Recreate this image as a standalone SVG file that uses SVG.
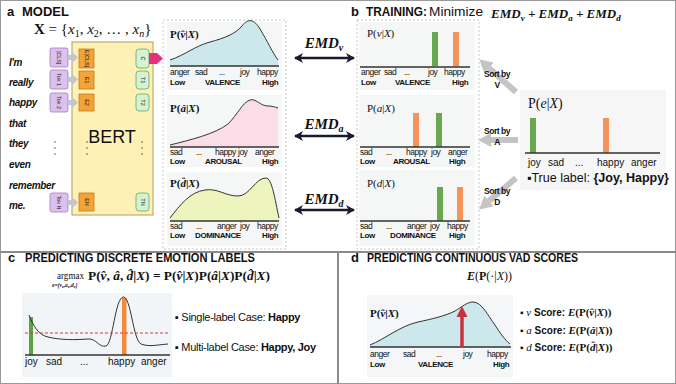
<svg xmlns="http://www.w3.org/2000/svg" width="676" height="384" viewBox="0 0 676 384">
<style>
.s{font-family:"Liberation Sans",Arial,sans-serif;fill:#111}
.m{font-family:"Liberation Serif","DejaVu Serif",serif;fill:#111}
.b{font-weight:bold}
.i{font-style:italic}
.t{font-size:13px;font-weight:bold}
.ax{font-size:8.5px;letter-spacing:-0.5px}
.axb{font-size:8px;font-weight:bold;letter-spacing:-0.4px}
.w{font-size:10px;font-weight:bold;font-style:italic;letter-spacing:-0.3px}
.tok{font-size:5.5px}
.bg{fill:#f5f7f7}
.dash{fill:none;stroke:#c8c8c8;stroke-dasharray:2 2}
.base{stroke:#333;stroke-width:1.6}
.curve{stroke:#333;stroke-width:1}
.srt{font-size:8.5px;font-weight:bold;letter-spacing:-0.5px}
.ga{stroke:#c4c4c4;stroke-width:6;fill:none}
.emd{stroke:#1a1a2e;stroke-width:2.5;fill:none}
.pur{fill:#dcc0ee;stroke:#a57cc4;stroke-width:0.8}
.org{fill:#f0a43a;stroke:#c87a18;stroke-width:0.8}
.grn{fill:#d6f2d4;stroke:#62a862;stroke-width:0.8}
.garr{fill:#c4c4cc}
</style>
<defs>
<marker id="ah" markerUnits="userSpaceOnUse" markerWidth="9" markerHeight="10" refX="8" refY="5" orient="auto-start-reverse"><path d="M0,0 L9,5 L0,10 L2.5,5 z" fill="#1a1a2e"/></marker>
<marker id="gh" markerUnits="userSpaceOnUse" markerWidth="13" markerHeight="14" refX="0" refY="7" orient="auto"><path d="M0,0 L13,7 L0,14 z" fill="#c4c4c4"/></marker>
</defs>

<!-- frame -->
<rect x="0.5" y="0.5" width="675" height="383" fill="#fff" stroke="#999"/>
<line x1="0" y1="252" x2="676" y2="252" stroke="#8a8a8a" stroke-width="2"/>
<line x1="338" y1="252" x2="338" y2="384" stroke="#8a8a8a" stroke-width="2"/>

<!-- titles -->
<text class="s t" x="7" y="16">a<tspan x="22">MODEL</tspan></text>
<text class="m" x="34" y="34" font-size="15"><tspan class="b">X</tspan> = {<tspan class="i">x</tspan><tspan font-size="10" dy="3">1</tspan><tspan dy="-3">, </tspan><tspan class="i">x</tspan><tspan font-size="10" dy="3">2</tspan><tspan dy="-3">, … , </tspan><tspan class="i">x</tspan><tspan font-size="10" dy="3" class="i">n</tspan><tspan dy="-3">}</tspan></text>
<text class="s t" x="351" y="16">b</text>
<text class="s t" x="366" y="16" textLength="61" lengthAdjust="spacingAndGlyphs">TRAINING:</text>
<text class="s" x="429" y="16" font-size="12" textLength="54" lengthAdjust="spacingAndGlyphs">Minimize</text>
<text class="m b i" x="491" y="18" font-size="13">EMD<tspan font-size="9" dy="3">v</tspan><tspan dy="-3"> + EMD</tspan><tspan font-size="9" dy="3">a</tspan><tspan dy="-3"> + EMD</tspan><tspan font-size="9" dy="3">d</tspan></text>

<!-- words -->
<g id="words">
<text class="s w" x="9" y="66">I'm</text>
<text class="s w" x="9" y="86">really</text>
<text class="s w" x="9" y="106">happy</text>
<text class="s w" x="9" y="127">that</text>
<text class="s w" x="9" y="147">they</text>
<text class="s w" x="9" y="168">even</text>
<text class="s w" x="9" y="189">remember</text>
<text class="s w" x="9" y="209">me.</text>
<g fill="#555"><circle cx="55" cy="142" r="0.8"/><circle cx="55" cy="148" r="0.8"/><circle cx="55" cy="154" r="0.8"/></g>
</g>

<!-- BERT -->
<g id="bert">
<rect x="72" y="42" width="81" height="173" fill="#fdf1b6" stroke="#b09c60" stroke-width="1"/>
<text class="s" x="112" y="143" font-size="18" text-anchor="middle">BERT</text>
<g fill="#555"><circle cx="87" cy="142" r="0.8"/><circle cx="87" cy="148" r="0.8"/><circle cx="87" cy="154" r="0.8"/><circle cx="142" cy="142" r="0.8"/><circle cx="142" cy="148" r="0.8"/><circle cx="142" cy="154" r="0.8"/></g>
</g>

<g id="tokens">
<rect class="pur" x="50" y="48" width="18" height="19" rx="2"/>
<rect class="pur" x="50" y="70" width="18" height="19" rx="2"/>
<rect class="pur" x="50" y="93" width="18" height="19" rx="2"/>
<rect class="pur" x="50" y="193" width="18" height="19" rx="2"/>
<text class="s tok" transform="translate(59,57.5) rotate(90)" text-anchor="middle" dy="2">[CLS]</text>
<text class="s tok" transform="translate(59,79.5) rotate(90)" text-anchor="middle" dy="2">Tok 1</text>
<text class="s tok" transform="translate(59,102.5) rotate(90)" text-anchor="middle" dy="2">Tok 2</text>
<text class="s tok" transform="translate(59,202.5) rotate(90)" text-anchor="middle" dy="2">Tok N</text>
<polygon class="garr" points="68,55 72,55 72,52 78,57.5 72,63 72,60 68,60"/>
<polygon class="garr" points="68,77 72,77 72,74 78,79.5 72,85 72,82 68,82"/>
<polygon class="garr" points="68,100 72,100 72,97 78,102.5 72,108 72,105 68,105"/>
<polygon class="garr" points="68,200 72,200 72,197 78,202.5 72,208 72,205 68,205"/>
</g>

<g id="embeddings">
<rect class="org" x="79" y="49" width="15" height="19"/>
<rect class="org" x="79" y="71" width="15" height="18"/>
<rect class="org" x="79" y="94" width="15" height="17"/>
<rect class="org" x="79" y="193" width="15" height="18"/>
<text class="s tok" transform="translate(86.5,58.5) rotate(90)" text-anchor="middle" dy="2">E[CLS]</text>
<text class="s tok" transform="translate(86.5,80) rotate(90)" text-anchor="middle" dy="2">E1</text>
<text class="s tok" transform="translate(86.5,102.5) rotate(90)" text-anchor="middle" dy="2">E2</text>
<text class="s tok" transform="translate(86.5,202) rotate(90)" text-anchor="middle" dy="2">EN</text>
</g>

<g id="outputs">
<rect class="grn" x="136" y="49" width="13" height="19" rx="3"/>
<rect class="grn" x="136" y="71" width="13" height="18" rx="3"/>
<rect class="grn" x="136" y="94" width="13" height="17" rx="3"/>
<rect class="grn" x="136" y="193" width="13" height="18" rx="3"/>
<text class="s tok" transform="translate(142.5,58.5) rotate(90)" text-anchor="middle" dy="2">C</text>
<text class="s tok" transform="translate(142.5,80) rotate(90)" text-anchor="middle" dy="2">T1</text>
<text class="s tok" transform="translate(142.5,102.5) rotate(90)" text-anchor="middle" dy="2">T2</text>
<text class="s tok" transform="translate(142.5,202) rotate(90)" text-anchor="middle" dy="2">TN</text>
<polygon points="149,53 157,53 163,58.5 157,64 149,64" fill="#e6307e"/>
</g>

<!-- predicted distributions -->
<g id="pred">
<rect class="dash" x="163" y="20" width="123" height="229"/>
<rect class="bg" x="167" y="22" width="115" height="68"/>
<rect class="bg" x="167" y="95" width="115" height="72"/>
<rect class="bg" x="167" y="172" width="115" height="74"/>
<path d="M170,60 C185,55 195,46 210,42 C225,38 235,34 242,26 C248,18 254,19 260,29 C268,42 272,52 278,60 L278,66 L170,66 Z" fill="#cde8ec"/>
<path class="curve" fill="none" d="M170,60 C185,55 195,46 210,42 C225,38 235,34 242,26 C248,18 254,19 260,29 C268,42 272,52 278,60"/>
<line class="base" x1="170" y1="66" x2="279" y2="66"/>
<text class="m b" x="170" y="38" font-size="11">P(<tspan class="i">v̂</tspan>|<tspan class="i">X</tspan>)</text>
<text class="s ax" y="75"><tspan x="170">anger</tspan><tspan x="195">sad</tspan><tspan x="219">...</tspan><tspan x="240">joy</tspan><tspan x="257">happy</tspan></text>
<text class="s axb" y="85"><tspan x="170">Low</tspan><tspan x="205">VALENCE</tspan><tspan x="262">High</tspan></text>

<path d="M170,145 C190,140 215,134 228,124 C238,114 242,103 250,100 C256,98 260,106 268,106 C272,106 275,107 278,108 L278,147 L170,147 Z" fill="#fbdde7"/>
<path class="curve" fill="none" d="M170,145 C190,140 215,134 228,124 C238,114 242,103 250,100 C256,98 260,106 268,106 C272,106 275,107 278,108"/>
<line class="base" x1="170" y1="147" x2="279" y2="147"/>
<text class="m b" x="170" y="112" font-size="11">P(<tspan class="i">â</tspan>|<tspan class="i">X</tspan>)</text>
<text class="s ax" y="155"><tspan x="170">sad</tspan><tspan x="196">...</tspan><tspan x="215">happy</tspan><tspan x="238">joy</tspan><tspan x="255">anger</tspan></text>
<text class="s axb" y="164"><tspan x="170">Low</tspan><tspan x="205">AROUSAL</tspan><tspan x="262">High</tspan></text>

<path d="M170,218 C180,205 190,192 205,190 C218,188 225,196 238,196 C250,196 255,178 266,178 C272,178 275,200 279,218 L279,221 L170,221 Z" fill="#eef4bd"/>
<path class="curve" fill="none" d="M170,218 C180,205 190,192 205,190 C218,188 225,196 238,196 C250,196 255,178 266,178 C272,178 275,200 279,218"/>
<line class="base" x1="170" y1="221" x2="279" y2="221"/>
<text class="m b" x="170" y="187" font-size="11">P(<tspan class="i">d̂</tspan>|<tspan class="i">X</tspan>)</text>
<text class="s ax" y="229"><tspan x="170">sad</tspan><tspan x="196">...</tspan><tspan x="217">anger</tspan><tspan x="240">joy</tspan><tspan x="257">happy</tspan></text>
<text class="s axb" y="238"><tspan x="170">Low</tspan><tspan x="195">DOMINANCE</tspan><tspan x="262">High</tspan></text>
</g>

<!-- connectors -->
<g id="connectors">
<line class="emd" x1="295" y1="58" x2="354" y2="58" marker-start="url(#ah)" marker-end="url(#ah)"/>
<line class="emd" x1="295" y1="136" x2="354" y2="136" marker-start="url(#ah)" marker-end="url(#ah)"/>
<line class="emd" x1="295" y1="210" x2="354" y2="210" marker-start="url(#ah)" marker-end="url(#ah)"/>
<line class="ga" x1="516" y1="92" x2="489" y2="68" marker-end="url(#gh)"/>
<line class="ga" x1="518" y1="140" x2="491" y2="140" marker-end="url(#gh)"/>
<line class="ga" x1="516" y1="178" x2="489" y2="201" marker-end="url(#gh)"/>
</g>
<g id="emd-labels">
<text class="m b i" x="324" y="48" font-size="15" text-anchor="middle">EMD<tspan font-size="10" dy="3">v</tspan></text>
<text class="m b i" x="324" y="129" font-size="15" text-anchor="middle">EMD<tspan font-size="10" dy="3">a</tspan></text>
<text class="m b i" x="324" y="204" font-size="15" text-anchor="middle">EMD<tspan font-size="10" dy="3">d</tspan></text>
</g>
<g id="sort-labels">
<text class="s srt" x="497" y="77" text-anchor="middle">Sort by</text>
<text class="s srt" x="497" y="88" text-anchor="middle">V</text>
<text class="s srt" x="497" y="134" text-anchor="middle">Sort by</text>
<text class="s srt" x="497" y="145" text-anchor="middle">A</text>
<text class="s srt" x="497" y="194" text-anchor="middle">Sort by</text>
<text class="s srt" x="497" y="205" text-anchor="middle">D</text>
</g>

<!-- training targets -->
<g id="targets">
<rect class="dash" x="357" y="20" width="122" height="229"/>
<rect class="bg" x="359" y="22" width="116" height="68"/>
<rect class="bg" x="359" y="95" width="116" height="72"/>
<rect class="bg" x="359" y="170" width="116" height="76"/>
<text class="m" x="367" y="37" font-size="11">P(<tspan class="i">v</tspan>|<tspan class="i">X</tspan>)</text>
<rect x="432" y="32" width="6" height="34" fill="#6aa84f"/>
<rect x="453" y="32" width="6" height="34" fill="#f4935a"/>
<line class="base" x1="360" y1="67" x2="470" y2="67"/>
<text class="s ax" y="75"><tspan x="361">anger</tspan><tspan x="384">sad</tspan><tspan x="404">...</tspan><tspan x="428">joy</tspan><tspan x="444">happy</tspan></text>
<text class="s axb" y="85"><tspan x="361">Low</tspan><tspan x="395">VALENCE</tspan><tspan x="452">High</tspan></text>

<text class="m" x="367" y="112" font-size="11">P(<tspan class="i">a</tspan>|<tspan class="i">X</tspan>)</text>
<rect x="413" y="113" width="6" height="34" fill="#f4935a"/>
<rect x="436" y="113" width="6" height="34" fill="#6aa84f"/>
<line class="base" x1="360" y1="147" x2="470" y2="147"/>
<text class="s ax" y="155"><tspan x="360">sad</tspan><tspan x="386">...</tspan><tspan x="406">happy</tspan><tspan x="431">joy</tspan><tspan x="448">anger</tspan></text>
<text class="s axb" y="164"><tspan x="360">Low</tspan><tspan x="393">AROUSAL</tspan><tspan x="449">High</tspan></text>

<text class="m" x="367" y="187" font-size="11">P(<tspan class="i">d</tspan>|<tspan class="i">X</tspan>)</text>
<rect x="437" y="187" width="6" height="34" fill="#6aa84f"/>
<rect x="457" y="187" width="6" height="34" fill="#f4935a"/>
<line class="base" x1="360" y1="221" x2="470" y2="221"/>
<text class="s ax" y="229"><tspan x="360">sad</tspan><tspan x="386">...</tspan><tspan x="407">anger</tspan><tspan x="430">joy</tspan><tspan x="447">happy</tspan></text>
<text class="s axb" y="238"><tspan x="360">Low</tspan><tspan x="390">DOMINANCE</tspan><tspan x="449">High</tspan></text>
</g>

<!-- true label -->
<g id="truth">
<rect x="520" y="90" width="146" height="100" fill="#f6f6f6"/>
<text class="m" x="528" y="108" font-size="14">P(<tspan class="i">e</tspan>|<tspan class="i">X</tspan>)</text>
<rect x="530" y="118" width="6" height="35" fill="#6aa84f"/>
<rect x="603" y="118" width="6" height="35" fill="#f4935a"/>
<line class="base" x1="525" y1="153" x2="660" y2="153"/>
<text class="s" font-size="10" y="166"><tspan x="528">joy</tspan><tspan x="548">sad</tspan><tspan x="575">...</tspan><tspan x="597">happy</tspan><tspan x="631">anger</tspan></text>
<text class="s" x="527" y="182" font-size="12.5">▪True label: <tspan class="b">{Joy, Happy}</tspan></text>
</g>

<!-- panel c -->
<g id="panel-c">
<text class="s t" x="8" y="262">c</text>
<text class="s t" x="25" y="262" textLength="230" lengthAdjust="spacingAndGlyphs">PREDICTING DISCRETE EMOTION LABELS</text>
<text class="m" x="57" y="279" font-size="10" textLength="27" lengthAdjust="spacingAndGlyphs">argmax</text>
<text class="m b i" x="52" y="287" font-size="5.5">e={v<tspan font-size="4" dy="1">e</tspan><tspan dy="-1">,a</tspan><tspan font-size="4" dy="1">e</tspan><tspan dy="-1">,d</tspan><tspan font-size="4" dy="1">e</tspan><tspan dy="-1">}</tspan></text>
<text class="m b" x="88" y="280" font-size="12" textLength="182" lengthAdjust="spacingAndGlyphs">P(<tspan class="i">v̂</tspan>, <tspan class="i">â</tspan>, <tspan class="i">d̂</tspan>|<tspan class="i">X</tspan>) = P(<tspan class="i">v̂</tspan>|<tspan class="i">X</tspan>)P(<tspan class="i">â</tspan>|<tspan class="i">X</tspan>)P(<tspan class="i">d̂</tspan>|<tspan class="i">X</tspan>)</text>
<rect x="22" y="293" width="150" height="84" fill="#f1f5f7"/>
<rect x="29" y="317" width="4" height="38" fill="#5da046"/>
<rect x="122" y="298" width="4.5" height="57" fill="#f08a3c"/>
<path class="curve" fill="none" stroke-width="1.6" d="M29,315 C33,325 38,335 48,337 C60,340 75,340 88,339 C96,338 99,348 106,346 C113,344 115,297 123.5,297 C131,297 133,340 141,344 C149,347 156,345 168,344"/>
<line x1="25" y1="333" x2="170" y2="333" stroke="#d63a3a" stroke-width="1" stroke-dasharray="3 2"/>
<line class="base" x1="25" y1="355" x2="170" y2="355"/>
<text class="s" font-size="10" y="365"><tspan x="25">joy</tspan><tspan x="46">sad</tspan><tspan x="80">...</tspan><tspan x="108">happy</tspan><tspan x="141">anger</tspan></text>
<text class="s" x="175" y="321" font-size="11" letter-spacing="-0.3">▪ Single-label Case: <tspan class="b">Happy</tspan></text>
<text class="s" x="175" y="351" font-size="11" letter-spacing="-0.3">▪ Multi-label Case: <tspan class="b">Happy, Joy</tspan></text>
</g>

<!-- panel d -->
<g id="panel-d">
<text class="s t" x="351" y="262">d</text>
<text class="s t" x="367" y="262" textLength="211" lengthAdjust="spacingAndGlyphs">PREDICTING CONTINUOUS VAD SCORES</text>
<text class="m" x="467" y="280" font-size="12"><tspan class="b i">E</tspan>(<tspan class="b">P</tspan>(·|<tspan class="i">X</tspan>))</text>
<rect x="367" y="295" width="146" height="82" fill="#f4f6f7"/>
<path d="M370,345 C385,339 400,326 418,322 C432,319 445,316 455,311 C462,307 467,302 473,302 C482,302 488,316 495,325 C500,333 505,340 510,344 L510,347 L370,347 Z" fill="#cde8ec"/>
<path class="curve" fill="none" d="M370,345 C385,339 400,326 418,322 C432,319 445,316 455,311 C462,307 467,302 473,302 C482,302 488,316 495,325 C500,333 505,340 510,344"/>
<line class="base" x1="370" y1="347" x2="511" y2="347"/>
<line x1="462" y1="347" x2="462" y2="315" stroke="#c8323c" stroke-width="3.5"/>
<polygon points="456.5,317 467.5,317 462,306" fill="#c8323c"/>
<text class="m b" x="370" y="317" font-size="11">P(<tspan class="i">v̂</tspan>|<tspan class="i">X</tspan>)</text>
<text class="s ax" y="357"><tspan x="370">anger</tspan><tspan x="403">sad</tspan><tspan x="436">...</tspan><tspan x="463">joy</tspan><tspan x="487">happy</tspan></text>
<text class="s axb" y="367"><tspan x="370">Low</tspan><tspan x="418">VALENCE</tspan><tspan x="493">High</tspan></text>
<text class="s" x="520" y="316" font-size="10">▪ <tspan class="m i" font-size="11">v</tspan><tspan class="b"> Score: </tspan><tspan class="m b i" font-size="11">E</tspan><tspan class="m b" font-size="11">(P(<tspan class="i">v̂</tspan>|<tspan class="i">X</tspan>))</tspan></text>
<text class="s" x="520" y="334" font-size="10">▪ <tspan class="m i" font-size="11">a</tspan><tspan class="b"> Score: </tspan><tspan class="m b i" font-size="11">E</tspan><tspan class="m b" font-size="11">(P(<tspan class="i">â</tspan>|<tspan class="i">X</tspan>))</tspan></text>
<text class="s" x="520" y="351" font-size="10">▪ <tspan class="m i" font-size="11">d</tspan><tspan class="b"> Score: </tspan><tspan class="m b i" font-size="11">E</tspan><tspan class="m b" font-size="11">(P(<tspan class="i">d̂</tspan>|<tspan class="i">X</tspan>))</tspan></text>
</g>
</svg>
